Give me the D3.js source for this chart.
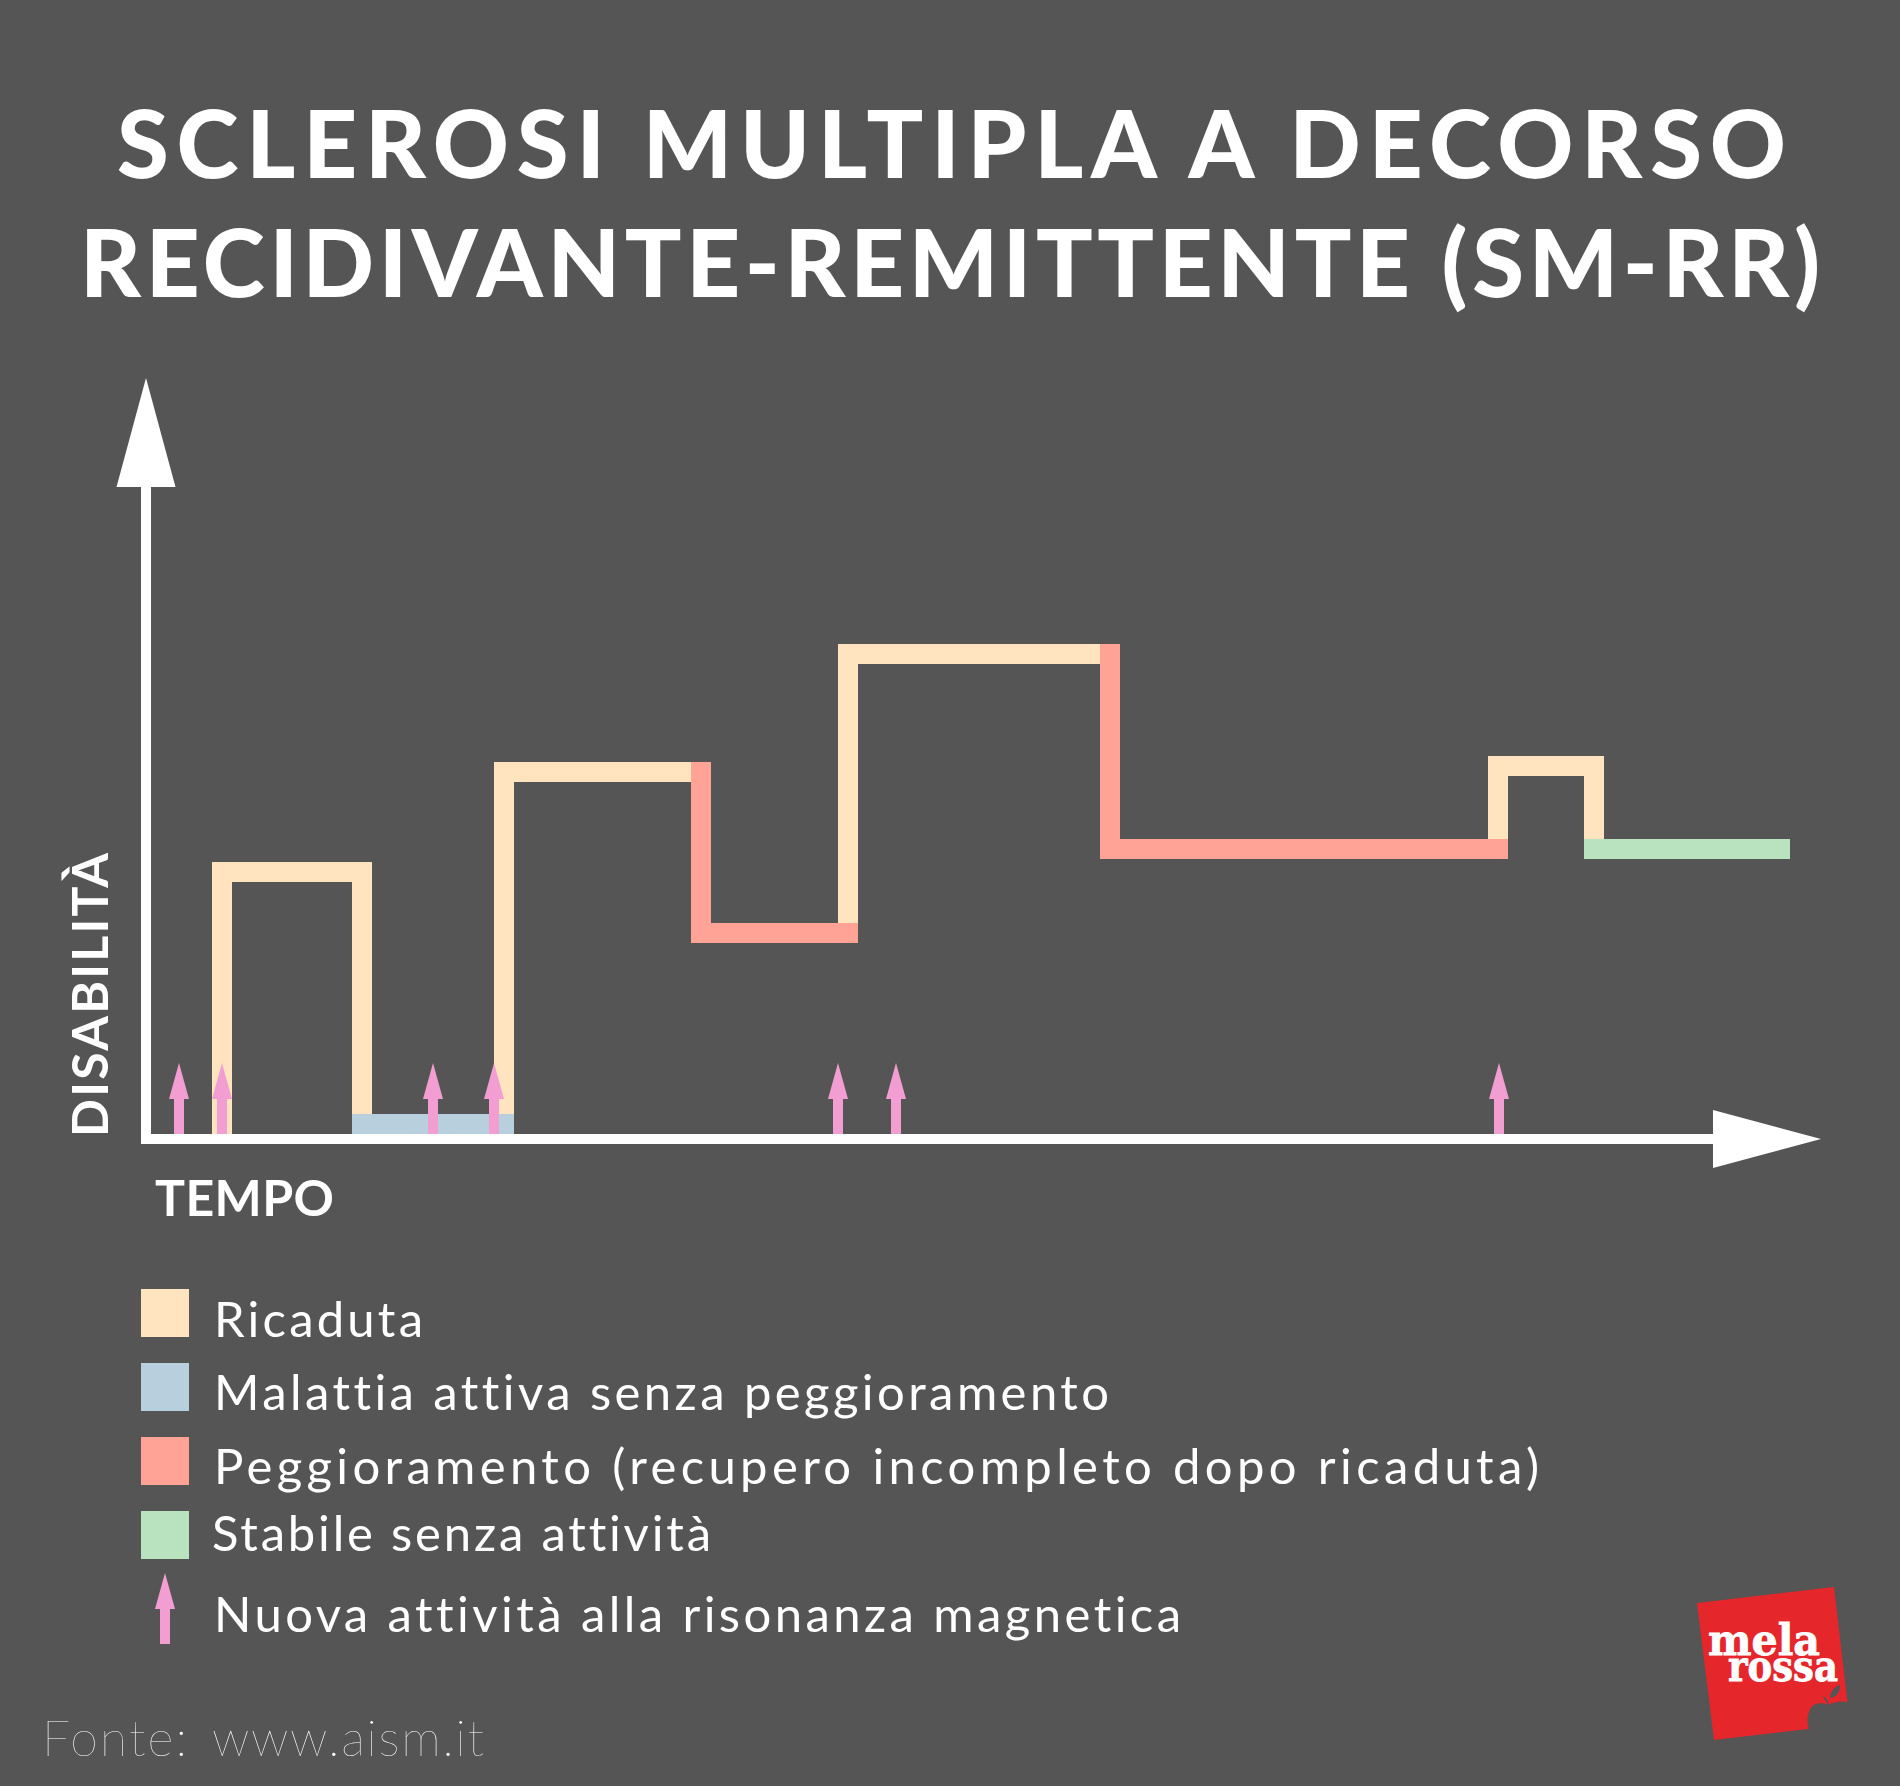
<!DOCTYPE html>
<html><head><meta charset="utf-8">
<script src="https://cdn.jsdelivr.net/npm/d3@7"></script>
<style>html,body{margin:0;padding:0;background:#555555}svg{display:block}text{font-variant-ligatures:none;font-feature-settings:"liga" 0,"kern" 1}</style>
</head><body><div id="chart"></div>
<script>
// --- data (time and disability in chart units) ---
const relapseRuns = [
  [[7.6,0],[7.6,25.2],[21.6,25.2],[21.6,0]],
  [[35.8,0],[35.8,35.2],[55.5,35.2]],
  [[70.2,19.1],[70.2,47],[96.4,47]],
  [[135.2,27.5],[135.2,35.8],[144.8,35.8],[144.8,27.5]]
];
const activeRuns = [[[21.6,0],[35.8,0]]];
const worseningRuns = [
  [[55.5,35.2],[55.5,19.1],[70.2,19.1]],
  [[96.4,47],[96.4,27.5],[135.2,27.5]]
];
const stableRuns = [[[144.8,27.5],[163.4,27.5]]];
const mriTimes = [3.3, 7.6, 28.7, 34.8, 69.2, 75, 135.3];
const titleLines = ["SCLEROSI MULTIPLA A DECORSO","RECIDIVANTE-REMITTENTE (SM-RR)"];
const legendLabels = ["Ricaduta","Malattia attiva senza peggioramento","Peggioramento (recupero incompleto dopo ricaduta)","Stabile senza attività","Nuova attività alla risonanza magnetica"];
const legendColors = ["#FFE4BF","#B8CFDD","#FFA397","#B9E2BF"];
const sourceParts = ["Fonte:","www.aism.it"];
const lineColors = {relapse:"#FFE4BF",active:"#B8CFDD",worse:"#FFA397",stable:"#B9E2BF",mri:"#F29ED2"};

const W=1900,H=1786,BG="#555555",WHITE="#FFFFFF";
const svg=d3.select("#chart").append("svg").attr("width",W).attr("height",H).attr("viewBox",`0 0 ${W} ${H}`);
svg.append("rect").attr("width",W).attr("height",H).attr("fill",BG);

const x=d3.scaleLinear().domain([0,164.4]).range([146,1790]);
const y=d3.scaleLinear().domain([0,47]).range([1124,654]);
const line=d3.line().x(d=>x(d[0])).y(d=>y(d[1]));

// title
const titleSpec=[{x:117,y:178,len:1669},{x:80,y:297,len:1740}];
svg.selectAll("text.title").data(titleLines).join("text").attr("class","title")
  .attr("x",(d,i)=>titleSpec[i].x).attr("y",(d,i)=>titleSpec[i].y)
  .attr("textLength",(d,i)=>titleSpec[i].len).attr("lengthAdjust","spacing")
  .attr("font-family","Lato").attr("font-weight",900).attr("font-size",94)
  .attr("fill",WHITE).text(d=>d);

// series runs
function drawRuns(runs,color){
  svg.append("g").selectAll("path").data(runs).join("path")
    .attr("d",line).attr("fill","none").attr("stroke",color).attr("stroke-width",20)
    .attr("stroke-linecap","square").attr("stroke-linejoin","miter");
}
drawRuns(relapseRuns,lineColors.relapse);
drawRuns(activeRuns,lineColors.active);
drawRuns(worseningRuns,lineColors.worse);
drawRuns(stableRuns,lineColors.stable);

// axes
const gAxes=svg.append("g");
gAxes.append("rect").attr("x",141).attr("y",480).attr("width",10).attr("height",664).attr("fill",WHITE);
gAxes.append("rect").attr("x",141).attr("y",1134).attr("width",1580).attr("height",10).attr("fill",WHITE);
gAxes.append("polygon").attr("points","146,378 175.5,487 116.5,487").attr("fill",WHITE);
gAxes.append("polygon").attr("points","1713,1110 1821,1139 1713,1168").attr("fill",WHITE);

// MRI arrows
function mriArrow(g,cx,tip,base,bottom){
  g.append("path").attr("fill",lineColors.mri)
   .attr("d",`M${cx},${tip}L${cx+10},${base}H${cx+5}V${bottom}H${cx-5}V${base}H${cx-10}Z`);
}
const gMri=svg.append("g");
mriTimes.forEach(t=>mriArrow(gMri,x(t),1063,1099,1134));

// axis labels
svg.append("text").attr("transform","translate(108,1137) rotate(-90)")
  .attr("textLength",284).attr("lengthAdjust","spacing")
  .attr("font-family","Lato").attr("font-weight",700).attr("font-size",50).attr("fill",WHITE).text("DISABILITÀ");
svg.append("text").attr("x",155).attr("y",1216).attr("textLength",179).attr("lengthAdjust","spacing")
  .attr("font-family","Lato").attr("font-weight",700).attr("font-size",50).attr("fill",WHITE).text("TEMPO");

// legend
const swatchY=[1289,1363,1437,1511];
const textSpec=[{x:214,y:1337,len:209},{x:214,y:1410,len:895},{x:214,y:1484,len:1325},{x:212,y:1551,len:499},{x:214,y:1632,len:967}];
svg.append("g").selectAll("rect").data(legendColors).join("rect")
  .attr("x",141).attr("y",(d,i)=>swatchY[i]).attr("width",48).attr("height",48).attr("fill",d=>d);
svg.append("g").selectAll("text").data(legendLabels).join("text")
  .attr("x",(d,i)=>textSpec[i].x).attr("y",(d,i)=>textSpec[i].y)
  .attr("textLength",(d,i)=>textSpec[i].len).attr("lengthAdjust","spacing")
  .attr("font-family","Lato").attr("font-weight",400).attr("font-size",49).attr("fill",WHITE).text(d=>d);
mriArrow(svg.append("g"),165,1573,1609,1644);

// source
const sourceSpec=[{x:42,len:145},{x:212,len:272}];
svg.append("g").selectAll("text").data(sourceParts).join("text")
  .attr("x",(d,i)=>sourceSpec[i].x).attr("y",1756)
  .attr("textLength",(d,i)=>sourceSpec[i].len).attr("lengthAdjust","spacing")
  .attr("font-family","Lato").attr("font-weight",100).attr("font-size",50).attr("fill",WHITE).text(d=>d);

// logo
const logo=svg.append("g");
logo.append("polygon").attr("points","1697,1603 1834,1587 1850,1724 1714,1740").attr("fill","#E5262B");
logo.append("path").attr("fill",BG)
  .attr("d","M1828,1705C1822,1702 1812,1702 1809,1712C1806,1720 1808,1728 1811,1735L1856,1735L1856,1705C1848,1700 1835,1701 1828,1705Z");
logo.append("path").attr("fill",BG).attr("d","M1830,1698C1830,1690 1836,1686 1840,1685C1840,1692 1837,1697 1830,1698Z");
logo.append("path").attr("fill",BG).attr("d","M1828,1705C1826,1701 1824,1699 1823,1696C1826,1697 1828,1700 1829,1705Z");
logo.append("text").attr("x",1708).attr("y",1655).attr("textLength",112).attr("lengthAdjust","spacingAndGlyphs")
  .attr("font-family","DejaVu Serif").attr("font-weight",700).attr("font-size",42).attr("fill",WHITE).attr("stroke",WHITE).attr("stroke-width",0.8).text("mela");
logo.append("text").attr("x",1728).attr("y",1681).attr("textLength",110).attr("lengthAdjust","spacingAndGlyphs")
  .attr("font-family","DejaVu Serif").attr("font-weight",700).attr("font-size",42).attr("fill",WHITE).attr("stroke",WHITE).attr("stroke-width",0.8).text("rossa");
</script></body></html>
